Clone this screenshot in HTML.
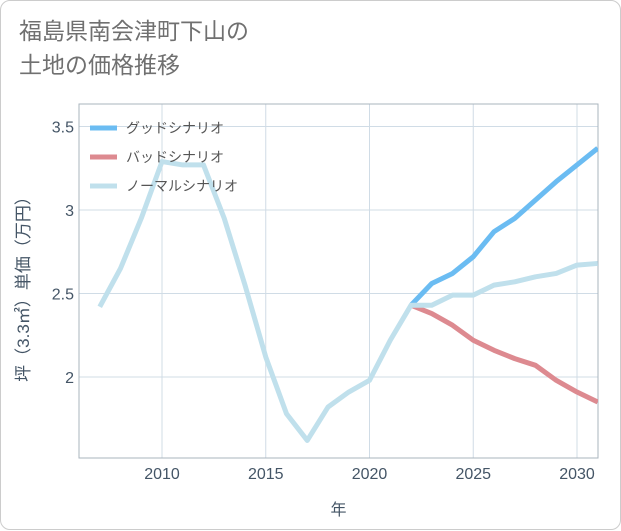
<!DOCTYPE html>
<html><head><meta charset="utf-8"><style>
body{margin:0;background:#fff;}
.card{position:absolute;left:0;top:0;width:619px;height:528px;border:1px solid #ccc;border-radius:10px;background:#fff;}
.title{position:absolute;left:18px;top:13px;font:23px/34px "Liberation Sans","Noto Sans CJK JP",sans-serif;color:#707070;}
svg text{font-family:"Liberation Sans","Noto Sans CJK JP",sans-serif;}
</style></head><body>
<div class="card">
<div class="title">福島県南会津町下山の<br>土地の価格推移</div>
<svg id="c" width="621" height="530" style="position:absolute;left:0;top:0"></svg>
</div>
<script>
const years=[2007,2008,2009,2010,2011,2012,2013,2014,2015,2016,2017,2018,2019,2020,2021,2022,2023,2024,2025,2026,2027,2028,2029,2030,2031];
const normal=[2.42,2.65,2.95,3.29,3.27,3.27,2.95,2.55,2.12,1.78,1.62,1.82,1.91,1.98,2.22,2.43,2.43,2.49,2.49,2.55,2.57,2.60,2.62,2.67,2.68];
const futureYears=[2022,2023,2024,2025,2026,2027,2028,2029,2030,2031];
const good=[2.43,2.56,2.62,2.72,2.87,2.95,3.06,3.17,3.27,3.37];
const bad=[2.43,2.38,2.31,2.22,2.16,2.11,2.07,1.98,1.91,1.85];
const xTicks=[2010,2015,2020,2025,2030];
const yTicks=[2,2.5,3,3.5];
const yTickLabels=["2","2.5","3","3.5"];
const L=78,R=597,T=103,B=457;
const X=y=>161+(y-2010)*20.75;
const Y=v=>376-(v-2)*167;
const svg=document.getElementById('c');const NS='http://www.w3.org/2000/svg';
function mk(t,a,p){const e=document.createElementNS(NS,t);for(const k in a)e.setAttribute(k,a[k]);(p||svg).appendChild(e);return e;}
xTicks.forEach((t,i)=>{const l=mk('line',{x1:X(t),x2:X(t),y1:T,y2:B,stroke:'#d0dce6','stroke-width':1});


const tx=mk('text',{x:X(t),y:478,'text-anchor':'middle','font-size':16,fill:'#445566'});tx.textContent=t;

});
yTicks.forEach((t,i)=>{const l=mk('line',{x1:L,x2:R,y1:Y(t),y2:Y(t),stroke:'#d0dce6','stroke-width':1});


const tx=mk('text',{x:73,y:Y(t)+6,'text-anchor':'end','font-size':16,fill:'#445566'});tx.textContent=yTickLabels[i];

});
const fr=mk('rect',{x:L,y:T,width:R-L,height:B-T,fill:'none',stroke:'#aab4be','stroke-width':1});


const xt=mk('text',{x:(L+R)/2,y:514,'text-anchor':'middle','font-size':16,fill:'#445566'});xt.textContent='年';


const yt=mk('text',{x:0,y:0,'text-anchor':'middle','font-size':17,fill:'#445566',transform:'translate(28,284) rotate(-90)'});yt.textContent='坪（3.3㎡）単価（万円）';


const clip=mk('clipPath',{id:'pc'});mk('rect',{x:L,y:T,width:R-L,height:B-T},clip);
function line(xs,vs,col,name){const p=mk('polyline',{points:xs.map((x,i)=>X(x)+','+Y(vs[i])).join(' '),fill:'none',stroke:col,'stroke-width':5,'stroke-linejoin':'round','clip-path':'url(#pc)'});

}
line(futureYears,good,'#6bbcf2','good-scenario-line');
line(futureYears,bad,'#dd8a90','bad-scenario-line');
line(years,normal,'#c0e0ec','normal-scenario-line');
const leg=[['グッドシナリオ','#6bbcf2'],['バッドシナリオ','#dd8a90'],['ノーマルシナリオ','#c0e0ec']];
leg.forEach((d,i)=>{const y=127+i*29;const g=mk('g',{});


mk('line',{x1:89,x2:116,y1:y,y2:y,stroke:d[1],'stroke-width':5},g);
const t=mk('text',{x:125,y:y+5,'font-size':14,fill:'#555'},g);t.textContent=d[0];});
</script>
</body></html>
